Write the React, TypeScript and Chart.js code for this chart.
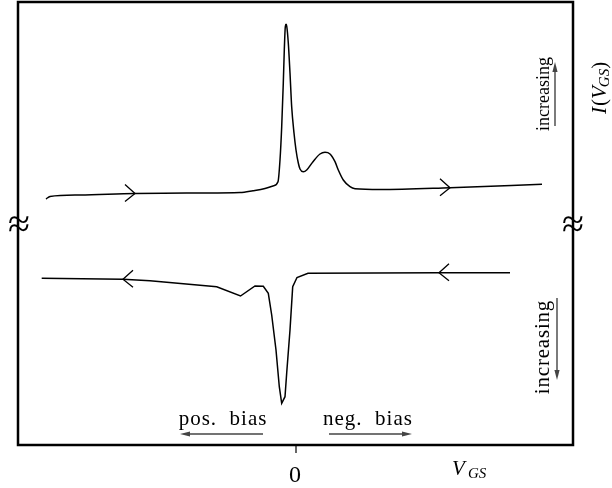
import React, { useEffect, useRef } from "react";
import { Chart, registerables } from "chart.js";

Chart.register(...registerables);

// Forward sweep (upper curve, left -> right)
const V_UP = [-2.5, -2.46, -2.16, -1.61, -0.96, -0.56, -0.43, -0.31, -0.23, -0.18, -0.16, -0.143, -0.127, -0.117, -0.107, -0.1, -0.093, -0.077, -0.06, -0.043, -0.02, 0.0, 0.023, 0.04, 0.073, 0.107, 0.17, 0.24, 0.29, 0.34, 0.39, 0.423, 0.473, 0.54, 0.59, 0.84, 1.54, 2.46];
const I_UP = [0.26, 0.285, 0.3, 0.315, 0.32, 0.325, 0.343, 0.365, 0.39, 0.433, 0.65, 0.983, 1.42, 1.75, 1.983, 2.007, 1.99, 1.82, 1.52, 1.18, 0.92, 0.75, 0.62, 0.56, 0.533, 0.55, 0.633, 0.71, 0.727, 0.71, 0.633, 0.55, 0.45, 0.383, 0.363, 0.355, 0.373, 0.407];

// Reverse sweep (lower curve, drawn right -> left)
const V_DOWN = [-2.543, -1.73, -1.46, -0.793, -0.555, -0.41, -0.327, -0.277, -0.243, -0.2, -0.167, -0.143, -0.11, -0.093, -0.06, -0.033, 0.01, 0.12, 1.433, 2.14];
const I_DOWN = [-0.533, -0.543, -0.557, -0.617, -0.71, -0.61, -0.613, -0.683, -0.9, -1.25, -1.617, -1.783, -1.717, -1.48, -1.05, -0.617, -0.525, -0.483, -0.477, -0.477];

// Direction arrows on the curves (V positions)
const ARROWS_UP_AT = [-1.61, 1.54];
const ARROWS_DOWN_AT = [-1.73, 1.43];

const X_TICKS = [0];
const X_TICK_LABELS = ["0"];

const SERIF = '"Liberation Serif", "DejaVu Serif", serif';

function interpY(pts: { x: number; y: number }[], px: number) {
  const sorted = [...pts].sort((a, b) => a.x - b.x);
  for (let i = 0; i < sorted.length - 1; i++) {
    const a = sorted[i], b = sorted[i + 1];
    if (px >= a.x && px <= b.x) {
      const t = (px - a.x) / (b.x - a.x || 1);
      return a.y + t * (b.y - a.y);
    }
  }
  return sorted[0].y;
}

function grayArrow(ctx: CanvasRenderingContext2D, x1: number, y1: number, x2: number, y2: number) {
  ctx.save();
  ctx.strokeStyle = "#444";
  ctx.fillStyle = "#444";
  ctx.lineWidth = 1.4;
  const ang = Math.atan2(y2 - y1, x2 - x1);
  const L = 10, W = 2.6;
  ctx.beginPath();
  ctx.moveTo(x1, y1);
  ctx.lineTo(x2 - Math.cos(ang) * L * 0.6, y2 - Math.sin(ang) * L * 0.6);
  ctx.stroke();
  ctx.beginPath();
  ctx.moveTo(x2, y2);
  ctx.lineTo(x2 - Math.cos(ang) * L - Math.sin(ang) * W, y2 - Math.sin(ang) * L + Math.cos(ang) * W);
  ctx.lineTo(x2 - Math.cos(ang) * L + Math.sin(ang) * W, y2 - Math.sin(ang) * L - Math.cos(ang) * W);
  ctx.closePath();
  ctx.fill();
  ctx.restore();
}

function text(ctx: CanvasRenderingContext2D, s: string, x: number, y: number, font: string, rot = 0, align: CanvasTextAlign = "center", base: CanvasTextBaseline = "alphabetic", spacing = "0px") {
  ctx.save();
  ctx.translate(x, y);
  ctx.rotate(rot);
  ctx.font = font;
  (ctx as any).letterSpacing = spacing;
  ctx.fillStyle = "#000";
  ctx.textAlign = align;
  ctx.textBaseline = base;
  ctx.fillText(s, 0, 0);
  ctx.restore();
}

const decorPlugin = {
  id: "decor",
  afterDatasetsDraw(chart: any) {
    const { ctx, chartArea, scales } = chart;
    const xs = scales.x, ys = scales.y;
    const { left, right, top, bottom } = chartArea;

    // chevrons on curves
    const drawChevrons = (dsIndex: number, at: number[], dir: number) => {
      const meta = chart.getDatasetMeta(dsIndex);
      const pts = meta.data.map((p: any) => ({ x: p.x, y: p.y }));
      at.forEach((v) => {
        const px = xs.getPixelForValue(v);
        const py = interpY(pts, px);
        ctx.save();
        ctx.strokeStyle = "#000";
        ctx.lineWidth = 1.3;
        ctx.beginPath();
        ctx.moveTo(px - dir * 10, py - 9);
        ctx.lineTo(px, py);
        ctx.lineTo(px - dir * 10, py + 8);
        ctx.stroke();
        ctx.restore();
      });
    };
    drawChevrons(0, ARROWS_UP_AT, 1);
    drawChevrons(1, ARROWS_DOWN_AT, -1);

    // frame
    ctx.save();
    ctx.strokeStyle = "#000";
    ctx.lineWidth = 2.5;
    ctx.strokeRect(left, top, right - left, bottom - top);
    ctx.restore();

    // x ticks
    X_TICKS.forEach((v, i) => {
      const px = xs.getPixelForValue(v);
      ctx.save();
      ctx.strokeStyle = "#000";
      ctx.lineWidth = 1.2;
      ctx.beginPath();
      ctx.moveTo(px, bottom);
      ctx.lineTo(px, bottom + 8);
      ctx.stroke();
      ctx.restore();
      text(ctx, X_TICK_LABELS[i], px - 1, bottom + 37, `24px ${SERIF}`);
    });

    const zx = xs.getPixelForValue(0);
    // axis labels
    text(ctx, "V", zx + 156, bottom + 30, `italic 21px ${SERIF}`, 0, "left");
    text(ctx, "GS", zx + 172, bottom + 33, `italic 15px ${SERIF}`, 0, "left");

    // I(V_GS) rotated
    ctx.save();
    ctx.translate(right + 33, top + 112);
    ctx.rotate(-Math.PI / 2);
    ctx.font = `italic 21px ${SERIF}`;
    ctx.fillStyle = "#000";
    ctx.textBaseline = "alphabetic";
    ctx.textAlign = "left";
    let cx = 0;
    ctx.fillText("I", 0, 0); cx += ctx.measureText("I").width + 1;
    ctx.font = `21px ${SERIF}`;
    ctx.fillText("(", cx, 0); cx += ctx.measureText("(").width;
    ctx.font = `italic 21px ${SERIF}`;
    ctx.fillText("V", cx, 0); cx += ctx.measureText("V").width - 1;
    ctx.font = `italic 15px ${SERIF}`;
    ctx.fillText("GS", cx, 3); cx += ctx.measureText("GS").width;
    ctx.font = `21px ${SERIF}`;
    ctx.fillText(")", cx, 0);
    ctx.restore();

    // break marks
    const yb = ys.getPixelForValue(0);
    text(ctx, "≈", left + 1, yb + 12, `40px ${SERIF}`);
    text(ctx, "≈", right, yb + 12, `40px ${SERIF}`);

    // increasing labels
    text(ctx, "increasing", right - 24, top + 92, `18px ${SERIF}`, -Math.PI / 2);
    grayArrow(ctx, right - 18, top + 124, right - 18, top + 60);
    text(ctx, "increasing", right - 24, top + 345, `21px ${SERIF}`, -Math.PI / 2, "center", "alphabetic", "0.8px");
    grayArrow(ctx, right - 16, top + 296, right - 16, top + 378);

    // bias labels
    text(ctx, "pos.  bias", zx - 73, bottom - 20, `21px ${SERIF}`, 0, "center", "alphabetic", "1px");
    grayArrow(ctx, zx - 33, bottom - 11, zx - 116, bottom - 11);
    text(ctx, "neg.  bias", zx + 72, bottom - 20, `21px ${SERIF}`, 0, "center", "alphabetic", "1px");
    grayArrow(ctx, zx + 33, bottom - 11, zx + 116, bottom - 11);
  },
};

export default function App() {
  const ref = useRef<HTMLCanvasElement | null>(null);
  useEffect(() => {
    document.body.style.margin = "0";
    const canvas = ref.current!;
    const chart = new Chart(canvas, {
      type: "line",
      data: {
        datasets: [
          {
            data: V_UP.map((v, i) => ({ x: v, y: I_UP[i] })),
            borderColor: "#000",
            borderWidth: 1.5,
            pointRadius: 0,
            cubicInterpolationMode: "monotone",
            fill: false,
          },
          {
            data: V_DOWN.map((v, i) => ({ x: v, y: I_DOWN[i] })),
            borderColor: "#000",
            borderWidth: 1.5,
            pointRadius: 0,
            tension: 0,
            fill: false,
          },
        ],
      },
      options: {
        animation: false,
        responsive: false,
        maintainAspectRatio: false,
        devicePixelRatio: 1,
        layout: { padding: { left: 18, right: 39, top: 2, bottom: 43 } },
        plugins: { legend: { display: false }, tooltip: { enabled: false } },
        scales: {
          x: { type: "linear", min: -2.78, max: 2.77, display: false },
          y: { type: "linear", min: -2.2, max: 2.23, display: false },
        },
      },
      plugins: [decorPlugin],
    });
    return () => chart.destroy();
  }, []);
  return (
    <div style={{ position: "fixed", left: 0, top: 0, width: 612, height: 488, background: "#fff" }}>
      <canvas ref={ref} width={612} height={488} style={{ width: 612, height: 488 }} />
    </div>
  );
}
